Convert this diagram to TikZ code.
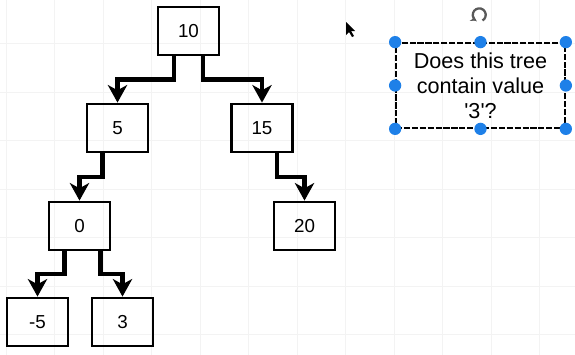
\documentclass[tikz,border=0pt]{standalone}
\usepackage{fontspec}
\setmainfont{Liberation Sans}
\usetikzlibrary{arrows.meta,calc}
\definecolor{handleblue}{RGB}{30,128,232}
\definecolor{gridgray}{RGB}{243,243,243}

\begin{document}
\begin{tikzpicture}[x=0.02cm,y=-0.02cm,
    treenode/.style={draw,line width=1.6pt,minimum width=1.22cm,minimum height=0.96cm,inner sep=0pt,font=\fontsize{10.7pt}{12pt}\selectfont},
    edge/.style={line width=2.3pt,-{Stealth[length=10pt,width=11pt,inset=3pt]}},
    handle/.style={circle,fill=handleblue,inner sep=0pt,minimum size=7pt}]
    \useasboundingbox (0,0) rectangle (575,355);

    % Background grid
    \foreach \gx in {6,54.5,...,575} \draw[gridgray,line width=0.4pt] (\gx,0) -- (\gx,355);
    \foreach \gy in {-5,43.5,...,355} \draw[gridgray,line width=0.4pt] (0,\gy) -- (575,\gy);

    % Tree nodes
    \node[treenode] (n10) at (188.5,31) {10};
    \node[treenode] (n5) at (117.5,128) {5};
    \node[treenode] (n15) at (262,128) {15};
    \node[treenode] (n0) at (79.5,226) {0};
    \node[treenode] (n20) at (304.5,226) {20};
    \node[treenode] (nm5) at (37.5,322) {-5};
    \node[treenode] (n3) at (122.5,322) {3};

    % Edges (orthogonal)
    \draw[edge] ([xshift=-0.29cm]n10.south) |- ($(n10.south)!0.5!(n5.north)$) -| (n5.north);
    \draw[edge] ([xshift=0.29cm]n10.south) |- ($(n10.south)!0.5!(n15.north)$) -| (n15.north);
    \draw[edge] ([xshift=-0.3cm]n5.south) |- ($(n5.south)!0.5!(n0.north)$) -| (n0.north);
    \draw[edge] ([xshift=0.3cm]n15.south) |- ($(n15.south)!0.5!(n20.north)$) -| (n20.north);
    \draw[edge] ([xshift=-0.3cm]n0.south) |- ($(n0.south)!0.5!(nm5.north)$) -| (nm5.north);
    \draw[edge] ([xshift=0.42cm]n0.south) |- ($(n0.south)!0.5!(n3.north)$) -| (n3.north);

    % Selected question box
    \node[draw,dashed,dash pattern=on 3.5pt off 1pt,line width=1pt,minimum width=3.38cm,minimum height=1.7cm,inner sep=0pt,
          align=center,font=\fontsize{12.3pt}{14.2pt}\selectfont] (q) at (480.5,85.5)
          {Does this tree\\contain value\\\textquotesingle3\textquotesingle?};
    \foreach \a in {north west,north,north east,east,south east,south,south west,west}
        \node[handle] at (q.\a) {};

    % Rotate handle
    \coordinate (rot) at (479,26);
    \draw[gray!70!black,line width=1.3pt,-{Stealth[length=3pt,width=4pt]}] ($(rot)+(3.5,-5.5)$) arc[start angle=60,end angle=-240,radius=6.5];

    % Mouse pointer
    \coordinate (tip) at (346,22);
    \fill[black] (tip) -- ++(0,13) -- ++(3,-3) -- ++(3,5) -- ++(2,-1) -- ++(-3,-5) -- ++(4,0) -- cycle;
\end{tikzpicture}
\end{document}
